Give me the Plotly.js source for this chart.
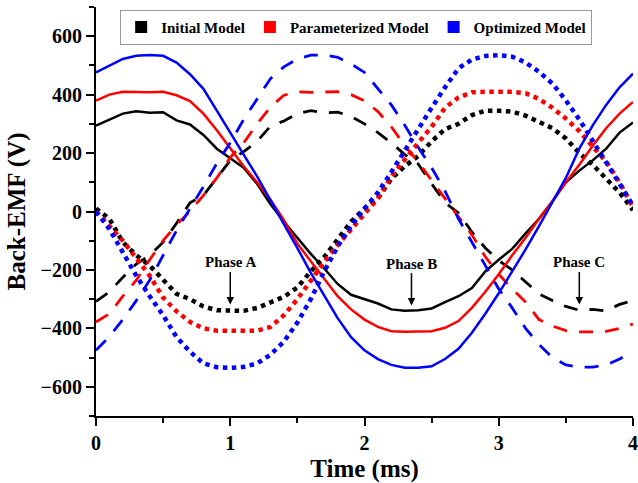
<!DOCTYPE html>
<html>
<head>
<meta charset="utf-8">
<script src="https://cdn.plot.ly/plotly-3.0.1.min.js"></script>
<style>html,body{margin:0;padding:0;background:#fff;}#chart{width:638px;height:483px;}</style>
</head>
<body>
<div id="chart"></div>
<script>
// Time axis (ms)
const time = [0,0.1,0.2,0.3,0.4,0.5,0.6,0.7,0.8,0.9,1.0,1.1,1.2,1.3,1.4,1.5,1.6,1.7,1.8,1.9,2.0,2.1,2.2,2.3,2.4,2.5,2.6,2.7,2.8,2.9,3.0,3.1,3.2,3.3,3.4,3.5,3.6,3.7,3.8,3.9,4.0];

// Initial model (black)
const initialSolid  = [294,315,335,343,338,340,312,298,262,215,183,150,95,25,-35,-90,-145,-195,-248,-285,-300,-315,-335,-340,-338,-332,-310,-290,-262,-205,-165,-128,-75,-25,35,100,140,175,215,270,305];
const initialDashed = [-308,-275,-225,-180,-150,-105,-40,30,55,115,175,205,240,292,310,335,345,338,340,325,300,270,235,195,163,95,30,-5,-70,-125,-168,-200,-240,-282,-305,-325,-338,-335,-340,-318,-305];
const initialDotted = [10,-25,-105,-150,-185,-235,-282,-300,-325,-338,-338,-340,-330,-310,-292,-260,-205,-156,-95,-35,10,45,112,155,190,240,282,300,330,345,345,342,328,305,285,250,200,160,112,65,5];

// Parameterized model (red)
const paramSolid  = [380,400,410,408,408,410,398,378,335,278,215,155,100,40,-30,-110,-170,-230,-290,-335,-370,-395,-410,-412,-412,-410,-398,-375,-330,-275,-215,-150,-90,-25,35,100,160,225,285,335,375];
const paramDashed = [-378,-350,-290,-235,-165,-100,-45,0,55,115,185,235,300,358,398,410,408,408,410,400,379,342,290,225,170,106,45,-20,-80,-155,-215,-265,-310,-370,-392,-408,-412,-412,-410,-400,-385];
const paramDotted = [0,-50,-100,-160,-220,-295,-342,-378,-400,-408,-408,-408,-408,-395,-355,-300,-235,-173,-115,-60,-5,45,120,180,235,290,355,390,408,410,410,410,405,385,355,318,275,225,170,100,15];

// Optimized model (blue)
const optSolid  = [476,500,522,533,536,533,510,470,420,345,268,195,120,40,-40,-125,-210,-290,-365,-430,-475,-505,-525,-535,-535,-530,-505,-470,-415,-350,-280,-205,-130,-50,30,115,215,295,365,425,472];
const optDashed = [-475,-428,-370,-305,-235,-150,-65,10,85,165,235,315,385,455,495,522,535,536,528,505,476,420,365,295,220,150,70,-25,-105,-190,-265,-330,-400,-455,-500,-525,-533,-533,-525,-505,-478];
const optDotted = [0,-60,-140,-220,-290,-355,-430,-480,-520,-533,-535,-532,-520,-490,-445,-380,-300,-205,-120,-50,10,65,135,210,280,355,425,490,520,532,535,530,510,478,438,380,315,243,165,95,20];

const modelNames = ['Initial Model','Parameterized Model','Optimized Model'];
const modelColors = ['#000000','#ff0000','#0000ff'];
const phaseLabels = ['Phase A','Phase B','Phase C'];
const phaseArrowX = [1.0, 2.35, 3.6];
const phaseArrowY = [-318, -322, -318];

const series = [
  [initialSolid, initialDashed, initialDotted],
  [paramSolid, paramDashed, paramDotted],
  [optSolid, optDashed, optDotted]
];
const styles = [
  {dash:'solid', width:2.5},
  {dash:'14px,12px', width:2.8},
  {dash:'4.5px,4.5px', width:4.5}
];

const traces = [];
series.forEach((group, m) => {
  group.forEach((vals, k) => {
    traces.push({
      x: time, y: vals, type:'scatter', mode:'lines',
      line:{color:modelColors[m], width:styles[k].width, dash:styles[k].dash},
      showlegend:false, hoverinfo:'skip'
    });
  });
});
modelNames.forEach((name, m) => {
  traces.push({
    x:[null], y:[null], type:'scatter', mode:'markers', name:'<b>' + name + '</b>',
    marker:{symbol:'square', size:12, color:modelColors[m]}, showlegend:true
  });
});

const serif = 'Liberation Serif';
const annotations = phaseLabels.map((lab, i) => ({
  x: phaseArrowX[i], y: phaseArrowY[i], xref:'x', yref:'y',
  text: '<b>' + lab + '</b>', showarrow:true, arrowhead:2, arrowsize:1, arrowwidth:1.5, arrowcolor:'#000',
  ax:0, ay:-42, font:{family:serif, size:15, color:'#000'}
}));

const layout = {
  width:638, height:483,
  margin:{l:96, r:5, t:7, b:67},
  paper_bgcolor:'#fff', plot_bgcolor:'#fff',
  font:{family:serif, color:'#000'},
  xaxis:{
    range:[0,4], dtick:1, tick0:0, ticks:'outside', ticklen:8, tickwidth:2, tickcolor:'#000',
    showline:true, linewidth:2, linecolor:'#000', showgrid:false, zeroline:false,
    minor:{dtick:0.5, ticks:'outside', ticklen:5, tickwidth:2, tickcolor:'#000', showgrid:false},
    tickfont:{family:serif, size:20, color:'#000', weight:'bold'},
    title:{text:'<b>Time (ms)</b>', font:{family:serif, size:25, color:'#000'}, standoff:8},
    automargin:false
  },
  yaxis:{
    range:[-700,700], dtick:200, tick0:0, ticks:'outside', ticklen:8, tickwidth:2, tickcolor:'#000',
    showline:true, linewidth:2, linecolor:'#000', showgrid:false, zeroline:false,
    minor:{dtick:100, ticks:'outside', ticklen:5, tickwidth:2, tickcolor:'#000', showgrid:false},
    tickfont:{family:serif, size:20, color:'#000', weight:'bold'},
    title:{text:'<b>Back-EMF (V)</b>', font:{family:serif, size:25, color:'#000'}, standoff:8},
    automargin:false
  },
  legend:{
    orientation:'h', x:0.045, y:0.993, xanchor:'left', yanchor:'top',
    bgcolor:'#fff', bordercolor:'#999', borderwidth:1,
    font:{family:serif, size:15, color:'#000'},
    itemwidth:30, tracegroupgap:0
  },
  annotations: annotations,
  showlegend:true
};

Plotly.newPlot('chart', traces, layout, {displayModeBar:false, staticPlot:true});
</script>
</body>
</html>
